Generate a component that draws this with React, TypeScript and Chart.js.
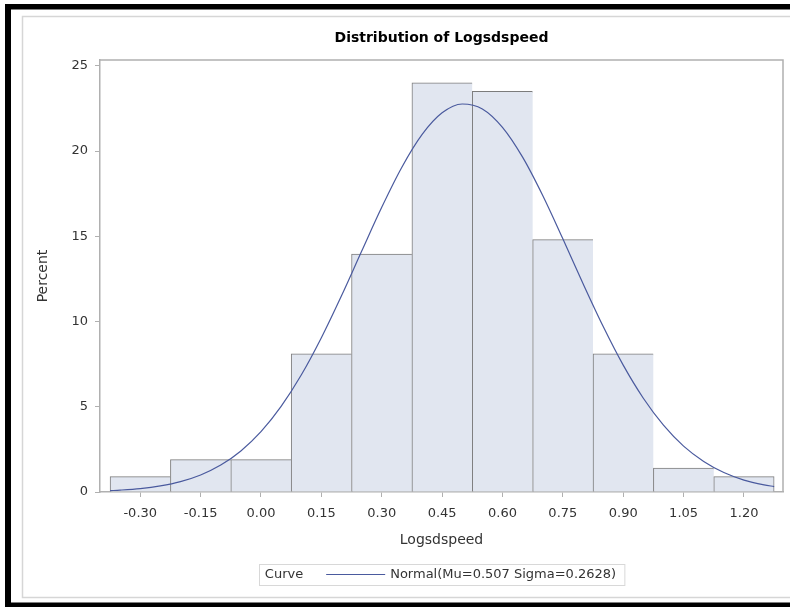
import React, { useEffect, useRef } from "react";
import { Chart, registerables } from "chart.js";

Chart.register(...registerables);

// ---- data ----
const chartTitle = "Distribution of Logsdspeed";
const xAxisTitle = "Logsdspeed";
const yAxisTitle = "Percent";
const legendTitle = "Curve";
const curveLabel = "Normal(Mu=0.507 Sigma=0.2628)";

const binCenters = [-0.3, -0.15, 0.0, 0.15, 0.3, 0.45, 0.6, 0.75, 0.9, 1.05, 1.2];
const binPercents = [0.9, 1.9, 1.9, 8.1, 13.95, 24.0, 23.5, 14.8, 8.1, 1.4, 0.9];

const xTicks = [-0.3, -0.15, 0.0, 0.15, 0.3, 0.45, 0.6, 0.75, 0.9, 1.05, 1.2];
const yTicks = [0, 5, 10, 15, 20, 25];

const curveX = [
  -0.375, -0.35, -0.3, -0.25, -0.2, -0.15, -0.1, -0.05, 0.0, 0.05, 0.1, 0.15,
  0.2, 0.25, 0.3, 0.35, 0.4, 0.45, 0.5, 0.55, 0.6, 0.65, 0.7, 0.75, 0.8, 0.85,
  0.9, 0.95, 1.0, 1.05, 1.1, 1.15, 1.2, 1.25, 1.275,
];
const curveY = [
  0.08, 0.11, 0.2, 0.36, 0.61, 1.0, 1.58, 2.41, 3.54, 5.02, 6.86, 9.05, 11.51,
  14.12, 16.7, 19.05, 20.96, 22.24, 22.76, 22.47, 21.39, 19.64, 17.39, 14.85,
  12.23, 9.72, 7.44, 5.5, 3.92, 2.69, 1.79, 1.14, 0.7, 0.42, 0.32,
];

// ---- styles ----
const FONT = "'DejaVu Sans', sans-serif";
const BAR_FILL = "#e1e6f0";
const BAR_EDGE = "#7c7c7c";
const CURVE = "#4a5a9e";
const AXIS = "#b0b0b0";
const TEXT = "#333333";

const decorations = {
  id: "decorations",
  beforeDraw(chart: any) {
    const { ctx, width, height } = chart;
    ctx.save();
    ctx.fillStyle = "#ffffff";
    ctx.fillRect(0, 0, width, height);
    // outer black frame (left, top, bottom)
    ctx.fillStyle = "#000000";
    ctx.fillRect(5, 4, 6, height - 4);
    ctx.fillRect(5, 4, width - 5, 5.5);
    ctx.fillRect(5, 602.5, width - 5, height - 602.5);
    // light grey page frame
    ctx.strokeStyle = "#d6d6d6";
    ctx.lineWidth = 1.5;
    ctx.strokeRect(22.5, 16.5, width + 10, 581);
    ctx.restore();
  },
  afterDraw(chart: any) {
    const { ctx, chartArea } = chart;
    const { left, right, top, bottom } = chartArea;
    ctx.save();
    // plot frame (top & right)
    ctx.strokeStyle = AXIS;
    ctx.lineWidth = 1.5;
    ctx.beginPath();
    ctx.moveTo(left, top);
    ctx.lineTo(right, top);
    ctx.lineTo(right, bottom);
    ctx.stroke();

    const cx = (left + right) / 2;
    // title
    ctx.fillStyle = "#000000";
    ctx.font = `bold 14px ${FONT}`;
    ctx.textAlign = "center";
    ctx.textBaseline = "middle";
    ctx.fillText(chartTitle, cx, 38.5);

    // legend
    const ds = chart.data.datasets[0];
    ctx.font = `13px ${FONT}`;
    const wTitle = ctx.measureText(legendTitle).width;
    const wLabel = ctx.measureText(ds.label).width;
    const padL = 6, gap1 = 23, lineLen = 59, gap2 = 5, padR = 8;
    const boxW = padL + wTitle + gap1 + lineLen + gap2 + wLabel + padR;
    const boxH = 21;
    const bx = cx - boxW / 2;
    const by = 564;
    ctx.fillStyle = "#ffffff";
    ctx.fillRect(bx, by, boxW, boxH);
    ctx.strokeStyle = "#d8d8d8";
    ctx.lineWidth = 1;
    ctx.strokeRect(Math.round(bx) + 0.5, by + 0.5, boxW, boxH);
    const my = by + boxH / 2;
    ctx.fillStyle = TEXT;
    ctx.textAlign = "left";
    ctx.fillText(legendTitle, bx + padL, my + 0.5);
    const lx = bx + padL + wTitle + gap1;
    ctx.strokeStyle = ds.borderColor;
    ctx.lineWidth = 1.2;
    ctx.beginPath();
    ctx.moveTo(lx, my);
    ctx.lineTo(lx + lineLen, my);
    ctx.stroke();
    ctx.fillText(ds.label, lx + lineLen + gap2, my + 0.5);
    ctx.restore();
  },
};

export default function App() {
  const ref = useRef<HTMLCanvasElement>(null);

  useEffect(() => {
    document.body.style.margin = "0";
    const canvas = ref.current!;
    const lastBar = binCenters.length - 1;
    const chart = new Chart(canvas, {
      type: "bar",
      data: {
        datasets: [
          {
            type: "line",
            label: curveLabel,
            data: curveX.map((x, i) => ({ x, y: curveY[i] })),
            borderColor: CURVE,
            borderWidth: 1.2,
            pointRadius: 0,
            cubicInterpolationMode: "monotone",
            fill: false,
            order: 1,
          } as any,
          {
            type: "bar",
            label: yAxisTitle,
            data: binCenters.map((x, i) => ({ x, y: binPercents[i] })),
            backgroundColor: BAR_FILL,
            borderColor: BAR_EDGE,
            borderWidth: (c: any) => ({
              top: 1,
              left: 1,
              bottom: 0,
              right: c.dataIndex === lastBar ? 1 : 0,
            }),
            borderSkipped: false,
            barPercentage: 1,
            categoryPercentage: 1,
            order: 2,
          } as any,
        ],
      },
      options: {
        responsive: false,
        animation: false,
        events: [],
        layout: { padding: { left: 35, right: 7, top: 60, bottom: 58 } },
        plugins: {
          legend: { display: false },
          tooltip: { enabled: false },
          title: { display: false },
        },
        scales: {
          x: {
            type: "linear",
            min: -0.4,
            max: 1.297,
            offset: false,
            afterBuildTicks: (s: any) => {
              s.ticks = xTicks.map((v) => ({ value: v }));
            },
            afterFit: (s: any) => {
              s.height = 57;
            },
            ticks: {
              callback: (v: any) => Number(v).toFixed(2),
              font: { family: FONT, size: 13 },
              color: TEXT,
              padding: 9,
              maxRotation: 0,
              autoSkip: false,
            },
            grid: {
              drawOnChartArea: false,
              drawTicks: true,
              tickLength: 5,
              color: AXIS,
              offset: false,
            },
            border: { display: true, color: AXIS, width: 1.5 },
            title: {
              display: true,
              text: xAxisTitle,
              font: { family: FONT, size: 14 },
              color: TEXT,
              padding: 0,
            },
          },
          y: {
            type: "linear",
            min: 0,
            max: 25.34,
            afterBuildTicks: (s: any) => {
              s.ticks = yTicks.map((v) => ({ value: v }));
            },
            afterFit: (s: any) => {
              s.width = 65;
            },
            ticks: {
              callback: (v: any) => String(v),
              font: { family: FONT, size: 13 },
              color: TEXT,
              padding: 7,
              includeBounds: false,
            },
            grid: {
              drawOnChartArea: false,
              drawTicks: true,
              tickLength: 5,
              color: AXIS,
            },
            border: { display: true, color: AXIS, width: 1.5 },
            title: {
              display: true,
              text: yAxisTitle,
              font: { family: FONT, size: 14 },
              color: TEXT,
              padding: 0,
            },
          },
        },
      } as any,
      plugins: [decorations],
    });
    return () => chart.destroy();
  }, []);

  return (
    <canvas
      ref={ref}
      width={790}
      height={607}
      style={{ display: "block", width: 790, height: 607 }}
    />
  );
}
